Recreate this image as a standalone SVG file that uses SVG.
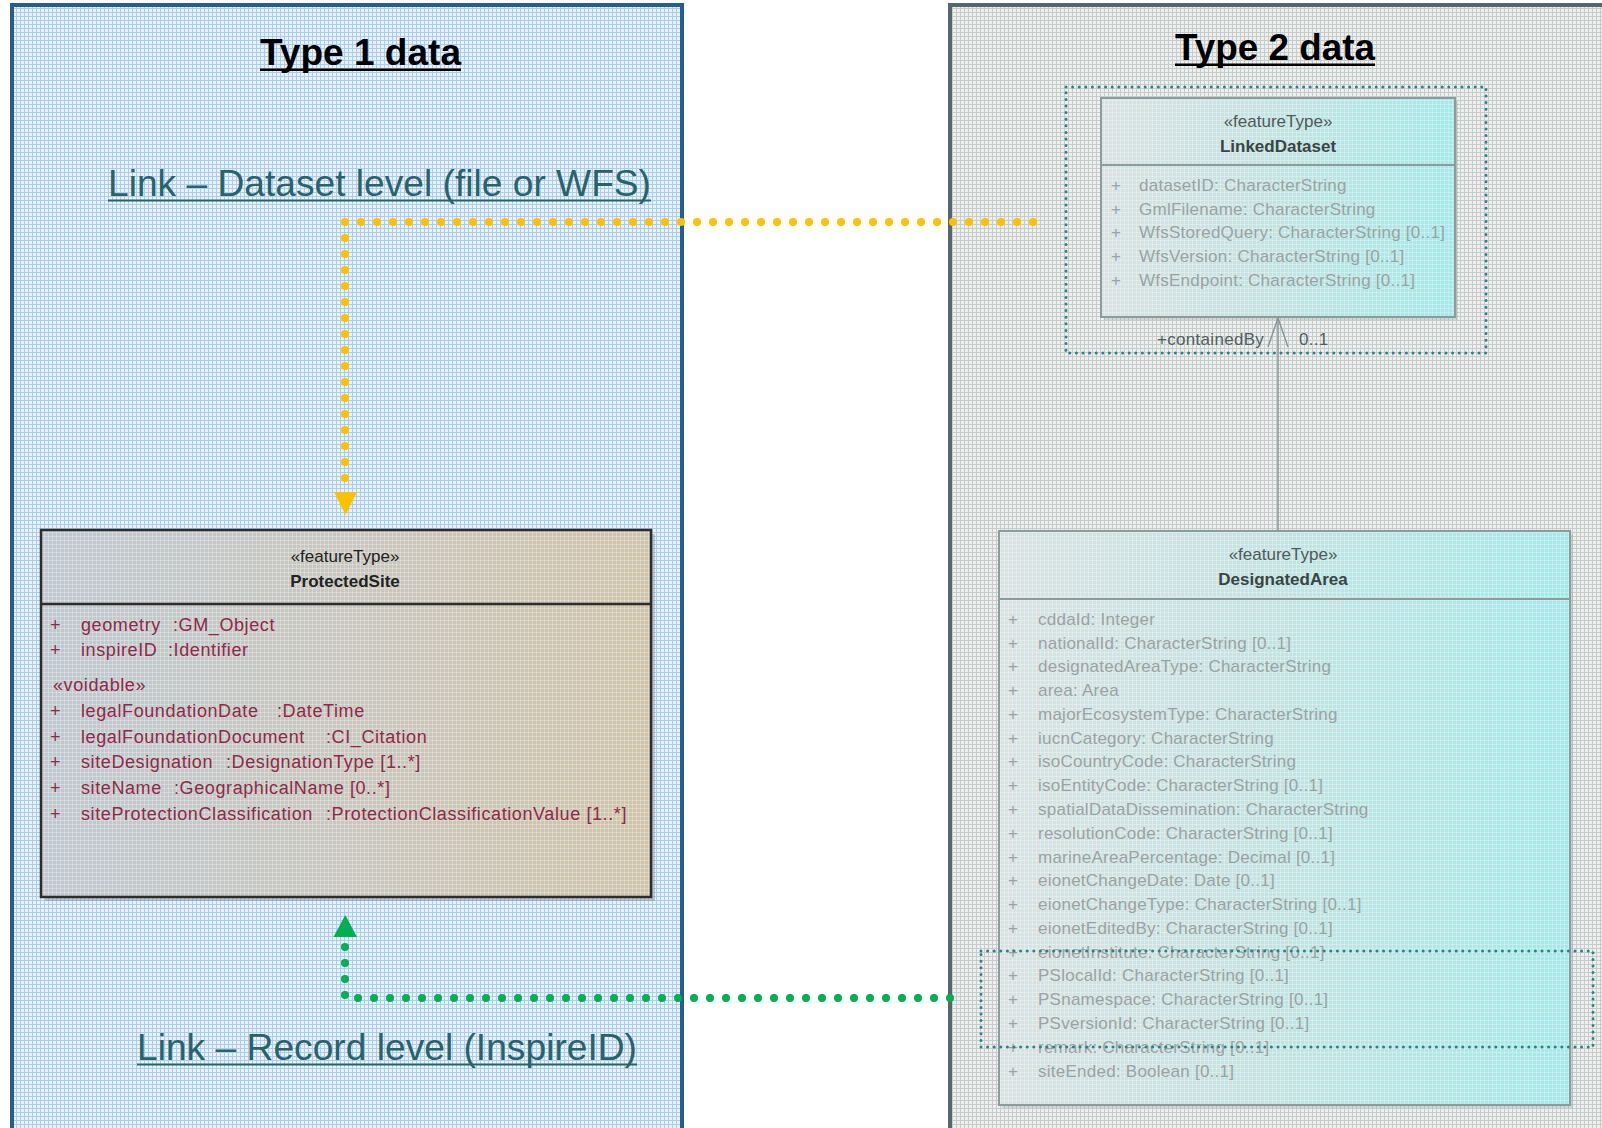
<svg xmlns="http://www.w3.org/2000/svg" width="1602" height="1128" viewBox="0 0 1602 1128">
  <defs>
    <pattern id="gridBlue" width="4" height="4" patternUnits="userSpaceOnUse">
      <rect width="4" height="4" fill="#e9f2fb"/>
      <rect width="4" height="1" fill="#a9cdee"/>
      <rect width="1" height="4" fill="#a9cdee"/>
    </pattern>
    <pattern id="gridGray" width="4" height="4" patternUnits="userSpaceOnUse">
      <rect width="4" height="4" fill="#eef0f0"/>
      <rect width="4" height="1" fill="#c6cbcb"/>
      <rect width="1" height="4" fill="#c6cbcb"/>
    </pattern>
    <pattern id="overlay" width="4" height="4" patternUnits="userSpaceOnUse">
      <rect width="4" height="1" fill="#ffffff" fill-opacity="0.28"/>
      <rect width="1" height="4" fill="#ffffff" fill-opacity="0.28"/>
    </pattern>
    <linearGradient id="gTan" x1="0" y1="0" x2="1" y2="0">
      <stop offset="0" stop-color="#bfc8d0"/>
      <stop offset="0.5" stop-color="#c8c6be"/>
      <stop offset="1" stop-color="#cfc3aa"/>
    </linearGradient>
    <linearGradient id="gCyan" x1="0" y1="0" x2="1" y2="0">
      <stop offset="0" stop-color="#d9e2e2"/>
      <stop offset="0.45" stop-color="#c6e2e2"/>
      <stop offset="1" stop-color="#a6e8e8"/>
    </linearGradient>
  </defs>
  <style>
    text { font-family: "Liberation Sans", Arial, sans-serif; }
    .title { font-size: 36px; font-weight: bold; fill: #000; }
    .link { font-size: 37px; fill: #2a6269; }
    .ps-head { font-size: 17px; fill: #222; }
    .ps-name { font-size: 17px; font-weight: bold; fill: #222; }
    .ps-attr { font-size: 18px; fill: #8e2a48; letter-spacing: 0.6px; }
    .t2-head { font-size: 17px; fill: #4f5a5a; }
    .t2-name { font-size: 17px; font-weight: bold; fill: #3a4444; }
    .t2-attr { font-size: 17px; fill: #9aa3a3; letter-spacing: 0.25px; }
    .role { font-size: 17px; fill: #555e5e; letter-spacing: 0.3px; }
    .dotbox { fill: none; stroke: #2e7f86; stroke-width: 3; stroke-dasharray: 0 6.6; stroke-linecap: round; }
  </style>

  <rect width="1602" height="1128" fill="#ffffff"/>

  <!-- Type 1 panel -->
  <g id="panel-type1">
    <rect x="12" y="5" width="670" height="1140" fill="url(#gridBlue)" stroke="#255d8f" stroke-width="4"/>
    <text class="title" x="260" y="65" textLength="201" lengthAdjust="spacingAndGlyphs">Type 1 data</text>
    <rect x="260" y="68.5" width="201" height="2.5" fill="#000"/>
    <text class="link" x="108" y="196" textLength="543" lengthAdjust="spacingAndGlyphs">Link – Dataset level (file or WFS)</text>
    <rect x="108" y="199.5" width="543" height="2" fill="#2a6269"/>
    <text class="link" x="137" y="1060" textLength="500" lengthAdjust="spacingAndGlyphs">Link – Record level (InspireID)</text>
    <rect x="137" y="1063.5" width="500" height="2" fill="#2a6269"/>
  </g>

  <!-- Type 2 panel -->
  <g id="panel-type2">
    <rect x="950" y="5" width="720" height="1140" fill="url(#gridGray)" stroke="#56666a" stroke-width="4"/>
    <text class="title" x="1175" y="60" textLength="200" lengthAdjust="spacingAndGlyphs">Type 2 data</text>
    <rect x="1175" y="63.5" width="200" height="2.5" fill="#000"/>
  </g>

  <!-- ProtectedSite -->
  <g id="node-protectedsite">
    <rect x="45" y="534" width="610" height="367" fill="#6f7a86" fill-opacity="0.35"/>
    <rect x="41" y="530" width="610" height="367" fill="url(#gTan)"/>
    <rect x="41" y="530" width="610" height="367" fill="url(#overlay)" stroke="#2d2d2d" stroke-width="2.5"/>
    <line x1="41" y1="604" x2="651" y2="604" stroke="#2d2d2d" stroke-width="2.5"/>
    <text class="ps-head" x="345" y="562" text-anchor="middle">«featureType»</text>
    <text class="ps-name" x="345" y="587" text-anchor="middle">ProtectedSite</text>
    <g class="ps-attr">
      <text x="50" y="631">+</text><text x="81" y="631">geometry</text><text x="173" y="631">:GM_Object</text>
      <text x="50" y="656">+</text><text x="81" y="656">inspireID</text><text x="168" y="656">:Identifier</text>
      <text x="53" y="691">«voidable»</text>
      <text x="50" y="717">+</text><text x="81" y="717">legalFoundationDate</text><text x="277" y="717">:DateTime</text>
      <text x="50" y="743">+</text><text x="81" y="743">legalFoundationDocument</text><text x="326" y="743">:CI_Citation</text>
      <text x="50" y="768">+</text><text x="81" y="768">siteDesignation</text><text x="226" y="768">:DesignationType [1..*]</text>
      <text x="50" y="794">+</text><text x="81" y="794">siteName</text><text x="174" y="794">:GeographicalName [0..*]</text>
      <text x="50" y="820">+</text><text x="81" y="820">siteProtectionClassification</text><text x="326" y="820">:ProtectionClassificationValue [1..*]</text>
    </g>
  </g>

  <!-- LinkedDataset -->
  <g id="node-linkeddataset">
    <rect x="1104" y="101" width="354" height="219" fill="#7a8a8a" fill-opacity="0.25"/>
    <rect x="1101" y="98" width="354" height="219" fill="url(#gCyan)"/>
    <rect x="1101" y="98" width="354" height="219" fill="url(#overlay)" stroke="#8c9b9b" stroke-width="2"/>
    <line x1="1101" y1="165" x2="1455" y2="165" stroke="#8c9b9b" stroke-width="2"/>
    <text class="t2-head" x="1278" y="127" text-anchor="middle">«featureType»</text>
    <text class="t2-name" x="1278" y="152" text-anchor="middle">LinkedDataset</text>
    <g class="t2-attr">
      <text x="1111" y="191">+</text><text x="1139" y="191">datasetID: CharacterString</text>
      <text x="1111" y="215">+</text><text x="1139" y="215">GmlFilename: CharacterString</text>
      <text x="1111" y="238">+</text><text x="1139" y="238">WfsStoredQuery: CharacterString [0..1]</text>
      <text x="1111" y="262">+</text><text x="1139" y="262">WfsVersion: CharacterString [0..1]</text>
      <text x="1111" y="286">+</text><text x="1139" y="286">WfsEndpoint: CharacterString [0..1]</text>
    </g>
    <rect class="dotbox" x="1066" y="87" width="420" height="266"/>
  </g>

  <!-- DesignatedArea -->
  <g id="node-designatedarea">
    <rect x="1002" y="534" width="571" height="574" fill="#7a8a8a" fill-opacity="0.25"/>
    <rect x="999" y="531" width="571" height="574" fill="url(#gCyan)"/>
    <rect x="999" y="531" width="571" height="574" fill="url(#overlay)" stroke="#8c9b9b" stroke-width="2"/>
    <line x1="999" y1="599" x2="1570" y2="599" stroke="#8c9b9b" stroke-width="2"/>
    <text class="t2-head" x="1283" y="560" text-anchor="middle">«featureType»</text>
    <text class="t2-name" x="1283" y="585" text-anchor="middle">DesignatedArea</text>
    <g class="t2-attr">
      <text x="1008" y="625">+</text><text x="1038" y="625">cddaId: Integer</text>
      <text x="1008" y="649">+</text><text x="1038" y="649">nationalId: CharacterString [0..1]</text>
      <text x="1008" y="672">+</text><text x="1038" y="672">designatedAreaType: CharacterString</text>
      <text x="1008" y="696">+</text><text x="1038" y="696">area: Area</text>
      <text x="1008" y="720">+</text><text x="1038" y="720">majorEcosystemType: CharacterString</text>
      <text x="1008" y="744">+</text><text x="1038" y="744">iucnCategory: CharacterString</text>
      <text x="1008" y="767">+</text><text x="1038" y="767">isoCountryCode: CharacterString</text>
      <text x="1008" y="791">+</text><text x="1038" y="791">isoEntityCode: CharacterString [0..1]</text>
      <text x="1008" y="815">+</text><text x="1038" y="815">spatialDataDissemination: CharacterString</text>
      <text x="1008" y="839">+</text><text x="1038" y="839">resolutionCode: CharacterString [0..1]</text>
      <text x="1008" y="863">+</text><text x="1038" y="863">marineAreaPercentage: Decimal [0..1]</text>
      <text x="1008" y="886">+</text><text x="1038" y="886">eionetChangeDate: Date [0..1]</text>
      <text x="1008" y="910">+</text><text x="1038" y="910">eionetChangeType: CharacterString [0..1]</text>
      <text x="1008" y="934">+</text><text x="1038" y="934">eionetEditedBy: CharacterString [0..1]</text>
      <text x="1008" y="958">+</text><text x="1038" y="958">eionetInstitute: CharacterString [0..1]</text>
      <text x="1008" y="981">+</text><text x="1038" y="981">PSlocalId: CharacterString [0..1]</text>
      <text x="1008" y="1005">+</text><text x="1038" y="1005">PSnamespace: CharacterString [0..1]</text>
      <text x="1008" y="1029">+</text><text x="1038" y="1029">PSversionId: CharacterString [0..1]</text>
      <text x="1008" y="1053">+</text><text x="1038" y="1053">remark: CharacterString [0..1]</text>
      <text x="1008" y="1077">+</text><text x="1038" y="1077">siteEnded: Boolean [0..1]</text>
    </g>
    <rect class="dotbox" x="981" y="951" width="612" height="96"/>
  </g>

  <!-- Connectors -->
  <g id="connectors">
    <path d="M1033 222 H345 V480" fill="none" stroke="#ffc000" stroke-width="8" stroke-linecap="round" stroke-dasharray="0 16"/>
    <polygon points="334,492 357,492 345.5,515" fill="#ffc000"/>
    <path d="M950 998 H345 V946" fill="none" stroke="#00b050" stroke-width="8" stroke-linecap="round" stroke-dasharray="0 16"/>
    <polygon points="333.5,937 357,937 345.3,915" fill="#00b050"/>
    <line x1="1278" y1="318" x2="1278" y2="531" stroke="#8a9696" stroke-width="1.5"/>
    <polyline points="1268,347 1278,318 1288,347" fill="none" stroke="#8a9696" stroke-width="1.5"/>
    <text class="role" x="1157" y="345">+containedBy</text>
    <text class="role" x="1299" y="345">0..1</text>
  </g>
</svg>
